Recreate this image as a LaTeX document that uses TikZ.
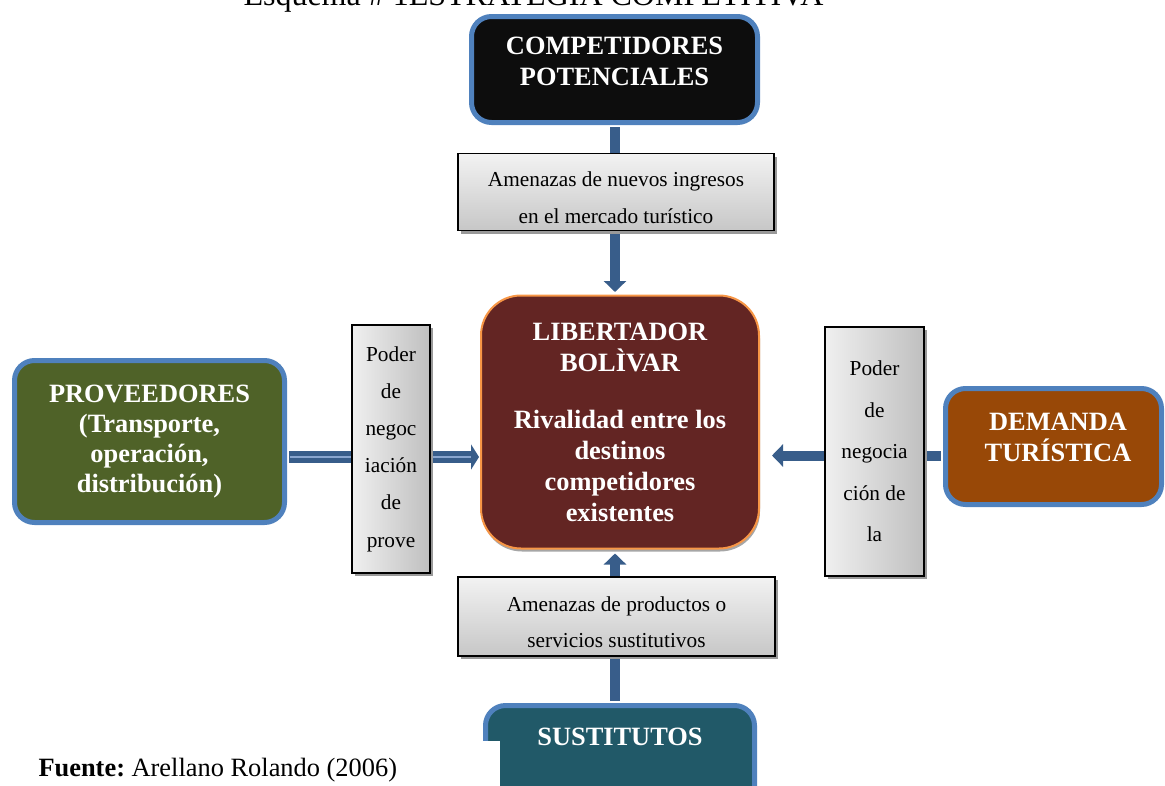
\documentclass[tikz,border=0pt]{standalone}
\usepackage{fontspec}
\setmainfont{Liberation Serif}
\usetikzlibrary{arrows.meta,positioning,shadows}
\definecolor{boxblue}{HTML}{4F81BD}
\definecolor{linkblue}{HTML}{385D8A}
\definecolor{stripeblue}{HTML}{8AA6CF}
\definecolor{compfill}{HTML}{0D0D0D}
\definecolor{libfill}{HTML}{632523}
\definecolor{libedge}{HTML}{F79646}
\definecolor{provfill}{HTML}{4F6228}
\definecolor{demfill}{HTML}{984807}
\definecolor{sustfill}{HTML}{215968}
\frenchspacing
\tikzset{
	actor/.style={draw=boxblue,line width=5pt,rounded corners=20pt,inner sep=0pt},
	bold/.style={text=white,font=\fontsize{26.4}{31}\selectfont\bfseries,align=center,inner sep=0pt},
	tagline/.style={draw=black,line width=1.8pt,inner sep=0pt,align=center,
		drop shadow={shadow xshift=3pt,shadow yshift=-3pt,fill=black!40,opacity=1}},
	hbar/.style={tagline,top color=black!5,bottom color=black!22,font=\fontsize{21.3}{37}\selectfont},
	vbar/.style={tagline,left color=black!6,right color=black!25},
	link/.style={draw=linkblue,line width=10pt,-{Triangle[width=22pt,length=11pt]}},
}
\begin{document}
\begin{tikzpicture}[x=1pt,y=-1pt]
	\useasboundingbox (0,0) rectangle (1165,785);
	\node[anchor=base west,font=\fontsize{32}{38}\selectfont] (title) at (240,5) {Esquema \# 1ESTRATEGIA COMPETITIVA};
	
	% main boxes
	\node[actor,fill=compfill,minimum width=286pt,minimum height=106pt] (comp) at (614.5,69.5) {};
	\node[bold] (compt) at (614.5,61) {COMPETIDORES\\POTENCIALES};
	\node[bold,draw=libedge,line width=2pt,fill=libfill,rounded corners=40pt,minimum width=278pt,minimum height=253pt,
		drop shadow={shadow xshift=1pt,shadow yshift=-3pt,fill=black!35,opacity=1}] (lib) at (620,422)
		{LIBERTADOR\\BOLÌVAR\\[26pt]Rivalidad entre los\\destinos\\competidores\\existentes};
	\node[actor,bold,fill=provfill,minimum width=270pt,minimum height=162pt,font=\fontsize{26.4}{30}\selectfont\bfseries] (prov) at (149.5,441.5)
		{PROVEEDORES\\(Transporte,\\operación,\\distribución)};
	\node[actor,fill=demfill,minimum width=216pt,minimum height=116pt] (dem) at (1053.5,446.5) {};
	\node[bold] (demt) at (1058,437) {DEMANDA\\TURÍSTICA};
	\node[actor,fill=sustfill,minimum width=269pt,minimum height=107pt] (sust) at (620,759) {};
	\node[bold] (sustt) at (620,737) {SUSTITUTOS};
	
	% arrows
	\coordinate (vcol) at (615,0);
	\coordinate (lrow) at (0,457);
	\coordinate (rrow) at (0,455.5);
	\draw[link,shorten <=2pt,shorten >=2.5pt] (comp.south -| vcol) -- (lib.north -| vcol);
	\draw[link,shorten <=2pt,shorten >=4pt] (sust.north -| vcol) -- (lib.south -| vcol);
	\draw[link,shorten <=2pt,shorten >=12pt] (dem.west |- rrow) -- (lib.east |- rrow);
	\draw[link,line width=12pt,-{Triangle[width=25pt,length=8pt]},shorten <=2pt,shorten >=1pt] (prov.east |- lrow) -- (lib.west |- lrow);
	\draw[stripeblue,line width=1.2pt,shorten <=2.5pt,shorten >=9pt] (prov.east |- lrow) -- (lib.west |- lrow);
	
	% labels on the arrows
	\node[hbar,minimum width=316pt,minimum height=77pt] (newin) at (616,192) {\strut Amenazas de nuevos ingresos\\en el mercado turístico};
	\node[hbar,minimum width=317pt,minimum height=79pt,font=\fontsize{21.3}{36}\selectfont] (subst) at (616.5,616.5) {\strut Amenazas de productos o\\servicios sustitutivos};
	\node[vbar,minimum width=78pt,minimum height=248pt,font=\fontsize{21.3}{37.2}\selectfont] (supp) at (391,449) {Poder\\de\\negoc\\iación\\de\\prove};
	\node[vbar,minimum width=99pt,minimum height=249pt,font=\fontsize{21.3}{41.5}\selectfont] (buy) at (874.5,451.5) {Poder\\de\\negocia\\ción de\\la};
	
	\fill[white] (0,741) rectangle (500,790);
	\node[anchor=base west,font=\fontsize{26.4}{31}\selectfont] (src) at (35,776) {\textbf{Fuente:} Arellano Rolando (2006)};
\end{tikzpicture}
\end{document}
